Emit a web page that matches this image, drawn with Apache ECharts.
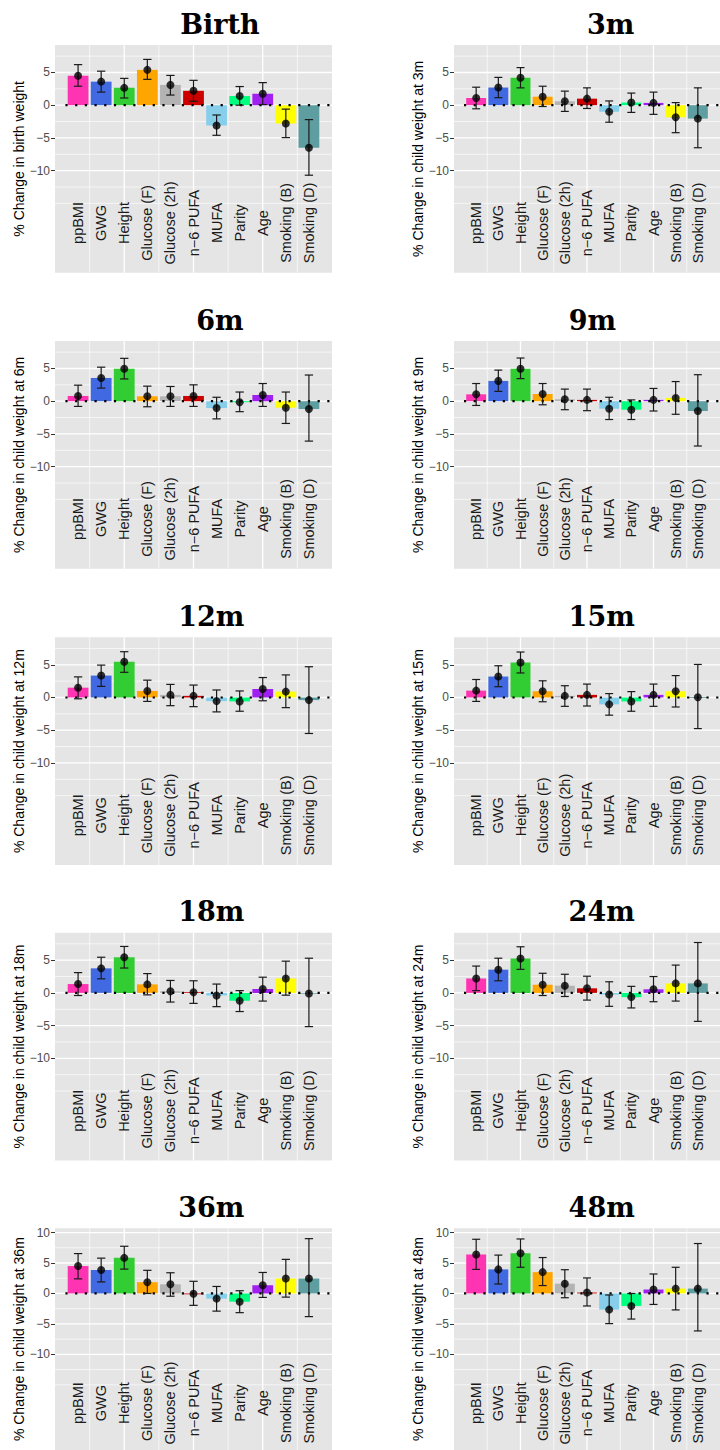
<!DOCTYPE html>
<html><head><meta charset="utf-8">
<script src="https://cdn.jsdelivr.net/npm/echarts@6/dist/echarts.min.js"></script>
<style>html,body{margin:0;padding:0;background:#fff}#c{width:720px;height:1450px}</style>
</head><body><div id="c"></div>
<script>
// ---------- data ----------
const categories = ['ppBMI','GWG','Height','Glucose (F)','Glucose (2h)','n\u22126 PUFA','MUFA','Parity','Age','Smoking (B)','Smoking (D)'];
const panelTitles = ['Birth','3m','6m','9m','12m','15m','18m','24m','36m','48m'];
const yTitles = ['% Change in birth weight','% Change in child weight at 3m','% Change in child weight at 6m','% Change in child weight at 9m','% Change in child weight at 12m','% Change in child weight at 15m','% Change in child weight at 18m','% Change in child weight at 24m','% Change in child weight at 36m','% Change in child weight at 48m'];
const yTicks = [-10,-5,0,5];
const yTicksLast = [-10,-5,0,5,10];

const birthEst = [4.5,3.6,2.65,5.4,3.1,2.2,-3.1,1.4,1.75,-2.8,-6.5];
const birthLo  = [2.9,2.0,1.1,3.95,1.55,0.6,-4.6,0.0,0.1,-4.95,-10.7];
const birthHi  = [6.2,5.2,4.1,7.0,4.55,3.8,-1.5,2.85,3.45,-0.6,-2.2];

const m3Est = [1.1,2.7,4.2,1.3,0.6,1.0,-1.0,0.4,0.35,-1.85,-2.05];
const m3Lo  = [-0.55,1.15,2.65,-0.2,-0.95,-0.5,-2.6,-1.1,-1.4,-4.2,-6.5];
const m3Hi  = [2.75,4.25,5.75,2.9,2.15,2.65,0.65,1.85,2.0,0.4,2.65];

const m6Est = [0.8,3.55,4.95,0.75,0.75,0.8,-1.05,-0.15,0.95,-1.0,-1.2];
const m6Lo  = [-0.8,2.0,3.4,-0.85,-0.8,-0.8,-2.7,-1.6,-0.8,-3.4,-6.1];
const m6Hi  = [2.45,5.2,6.55,2.3,2.25,2.5,0.6,1.4,2.7,1.4,4.0];

const m9Est = [1.05,3.1,4.95,1.1,0.3,0.2,-1.15,-1.3,0.2,0.5,-1.5];
const m9Lo  = [-0.65,1.5,3.45,-0.55,-1.3,-1.45,-2.8,-2.8,-1.5,-2.0,-6.85];
const m9Hi  = [2.7,4.75,6.6,2.7,1.85,1.85,0.6,0.2,1.95,3.0,4.05];

const m12Est = [1.5,3.35,5.45,1.0,0.4,0.25,-0.55,-0.6,1.3,0.9,-0.4];
const m12Lo  = [-0.2,1.7,3.85,-0.6,-1.25,-1.4,-2.2,-2.1,-0.5,-1.55,-5.5];
const m12Hi  = [3.15,4.95,7.0,2.65,2.0,1.9,1.15,1.0,3.05,3.45,4.7];

const m15Est = [1.05,3.2,5.35,0.95,0.25,0.4,-1.05,-0.6,0.4,0.95,0.05];
const m15Lo  = [-0.6,1.65,3.75,-0.65,-1.35,-1.3,-2.7,-2.1,-1.35,-1.45,-4.75];
const m15Hi  = [2.75,4.85,6.95,2.55,1.8,2.05,0.6,0.9,2.05,3.35,5.05];

const m18Est = [1.35,3.75,5.45,1.3,0.25,0.1,-0.4,-1.2,0.6,2.2,-0.1];
const m18Lo  = [-0.4,2.15,3.8,-0.3,-1.4,-1.6,-2.1,-2.85,-1.25,-0.35,-5.15];
const m18Hi  = [3.1,5.45,7.1,2.95,1.9,1.85,1.35,0.35,2.4,4.85,5.3];

const m24Est = [2.2,3.55,5.25,1.25,1.1,0.7,-0.25,-0.65,0.55,1.45,1.45];
const m24Lo  = [0.35,1.85,3.6,-0.4,-0.55,-1.1,-2.05,-2.3,-1.35,-1.25,-4.35];
const m24Hi  = [4.1,5.3,7.05,3.0,2.85,2.55,1.7,1.0,2.5,4.25,7.7];

const m36Est = [4.5,3.85,5.85,1.85,1.5,-0.05,-0.85,-1.35,1.35,2.45,2.45];
const m36Lo  = [2.4,1.9,4.0,0.0,-0.45,-1.95,-2.9,-3.15,-0.65,-0.6,-3.8];
const m36Hi  = [6.55,5.8,7.75,3.8,3.4,2.0,1.15,0.45,3.45,5.6,9.0];

const m48Est = [6.4,3.95,6.6,3.5,1.6,0.15,-2.65,-2.05,0.65,0.8,0.8];
const m48Lo  = [3.95,1.55,4.3,1.3,-0.7,-2.05,-4.95,-4.2,-1.8,-2.7,-6.15];
const m48Hi  = [8.9,6.3,8.95,5.9,3.9,2.55,-0.25,0.0,3.2,4.3,8.2];

const hGridValues = [-15,-12.5,-10,-7.5,-5,-2.5,0,2.5,5,7.5,10];
const vGridValues = [1.5,3,4.5,6,7.5,9,10.5];
const labelY = -18;

// ---------- style / layout ----------
const palette = ['#FF34B3','#4169E1','#32CD32','#FFA500','#B3B3B3','#CD0000','#87CEEB','#00FF7F','#A020F0','#FFFF00','#5F9EA0'];
const panels = [
  [birthEst,birthLo,birthHi],[m3Est,m3Lo,m3Hi],[m6Est,m6Lo,m6Hi],[m9Est,m9Lo,m9Hi],
  [m12Est,m12Lo,m12Hi],[m15Est,m15Lo,m15Hi],[m18Est,m18Lo,m18Hi],[m24Est,m24Lo,m24Hi],
  [m36Est,m36Lo,m36Hi],[m48Est,m48Lo,m48Hi]
];
const COL_LEFT = [55, 454];
const ROW_TOP = [45, 341, 637.3, 932.7, 1228.3];
const PW = 277, PH = 227.7;
const titleX = [220, 610.7, 220, 592.3, 211.3, 601.7, 211.3, 601.7, 211.3, 601.7];
const SANS = 'Liberation Sans';
const SERIF = 'DejaVu Serif';

const grids = [], xAxes = [], yAxes = [], series = [], graphics = [];
const fmt = v => v < 0 ? '\u2212' + Math.abs(v) : String(v);

panels.forEach((p, i) => {
  const row = Math.floor(i / 2), col = i % 2;
  const last = row === 4;
  const yMin = last ? -25.7 : -25.6, yMax = last ? 10.7 : 9.2;
  const ticks = last ? yTicksLast : yTicks;
  grids.push({left: COL_LEFT[col], top: ROW_TOP[row], width: PW, height: PH, show: true,
    backgroundColor: '#E5E5E5', borderWidth: 0, containLabel: false});
  xAxes.push({gridIndex: i, type: 'value', min: 0, max: 12, show: false});
  yAxes.push({gridIndex: i, type: 'value', min: yMin, max: yMax,
    splitLine: {show: false}, axisLine: {show: false},
    axisTick: {show: true, length: 4, lineStyle: {color: '#333', width: 1}, customValues: ticks},
    axisLabel: {customValues: ticks, formatter: fmt, color: '#4D4D4D', fontSize: 12, margin: 5, fontFamily: SANS},
    name: yTitles[i], nameLocation: 'middle', nameGap: 26,
    nameTextStyle: {fontSize: 14, color: '#000', fontFamily: SANS}
  });
  const [est, lo, hi] = p;
  const hData = hGridValues.filter(v => v > yMin && v < yMax).map(v => [0, v, (v % 5 === 0 && v >= -10) ? 1 : 0]);
  const vData = vGridValues.map(v => [1, v, (v % 3 === 0) ? 1 : 0]);
  // grid lines
  series.push({type: 'custom', xAxisIndex: i, yAxisIndex: i, z: 1, silent: true,
    data: hData.concat(vData),
    renderItem: (params, api) => {
      const t = api.value(0), v = api.value(1), major = api.value(2);
      let a, b;
      if (t === 0) { a = api.coord([0, v]); b = api.coord([12, v]); }
      else { a = api.coord([v, yMin]); b = api.coord([v, yMax]); }
      return {type: 'line', shape: {x1: a[0], y1: a[1], x2: b[0], y2: b[1]},
        style: {stroke: '#FFFFFF', lineWidth: major ? 1.3 : 0.65}};
    }});
  // bars
  series.push({type: 'custom', xAxisIndex: i, yAxisIndex: i, z: 2, silent: true,
    data: est.map((v, j) => [j + 1, v]),
    renderItem: (params, api) => {
      const x = api.value(0), v = api.value(1);
      const a = api.coord([x - 0.45, Math.max(v, 0)]);
      const b = api.coord([x + 0.45, Math.min(v, 0)]);
      return {type: 'rect', shape: {x: a[0], y: a[1], width: b[0] - a[0], height: Math.max(b[1] - a[1], 0.8)},
        style: {fill: palette[params.dataIndex]}};
    }});
  // zero dotted line
  series.push({type: 'custom', xAxisIndex: i, yAxisIndex: i, z: 3, silent: true,
    data: [[0.45, 12, 0]],
    renderItem: (params, api) => {
      const a = api.coord([api.value(0), api.value(2)]);
      const b = api.coord([api.value(1), api.value(2)]);
      return {type: 'line', shape: {x1: a[0], y1: a[1], x2: b[0], y2: b[1]},
        style: {stroke: '#000', lineWidth: 2.2, lineDash: [2.2, 7.5]}};
    }});
  // error bars
  series.push({type: 'custom', xAxisIndex: i, yAxisIndex: i, z: 4, silent: true,
    data: est.map((v, j) => [j + 1, lo[j], hi[j]]),
    renderItem: (params, api) => {
      const x = api.value(0);
      const l = api.coord([x, api.value(1)]), h = api.coord([x, api.value(2)]);
      const cw = api.size([0.36, 0])[0] / 2;
      const st = {stroke: '#1a1a1a', lineWidth: 1.2};
      return {type: 'group', children: [
        {type: 'line', shape: {x1: l[0], y1: l[1], x2: h[0], y2: h[1]}, style: st},
        {type: 'line', shape: {x1: l[0] - cw, y1: l[1], x2: l[0] + cw, y2: l[1]}, style: st},
        {type: 'line', shape: {x1: h[0] - cw, y1: h[1], x2: h[0] + cw, y2: h[1]}, style: st}
      ]};
    }});
  // points
  series.push({type: 'scatter', xAxisIndex: i, yAxisIndex: i, z: 5, silent: true,
    symbol: 'circle', symbolSize: 8, itemStyle: {color: '#000'},
    data: est.map((v, j) => [j + 1, v])});
  // category labels inside panel
  series.push({type: 'custom', xAxisIndex: i, yAxisIndex: i, z: 3, silent: true,
    data: categories.map((c, j) => [j + 1, labelY]),
    renderItem: (params, api) => {
      const pt = api.coord([api.value(0), api.value(1)]);
      return {type: 'text', x: pt[0], y: pt[1], rotation: Math.PI / 2,
        style: {text: categories[params.dataIndex], fill: '#1a1a1a', fontSize: 14.5, fontFamily: SANS,
          align: 'center', verticalAlign: 'middle'}};
    }});
  graphics.push({type: 'text', x: titleX[i], y: ROW_TOP[row] - 21,
    style: {text: panelTitles[i], fill: '#000', fontSize: 27, fontWeight: 'bold', fontFamily: SERIF, align: 'center', verticalAlign: 'middle'}});
});

const chart = echarts.init(document.getElementById('c'), null, {renderer: 'svg'});
chart.setOption({
  backgroundColor: '#ffffff',
  animation: false,
  grid: grids, xAxis: xAxes, yAxis: yAxes, series: series, graphic: graphics
});
</script></body></html>
